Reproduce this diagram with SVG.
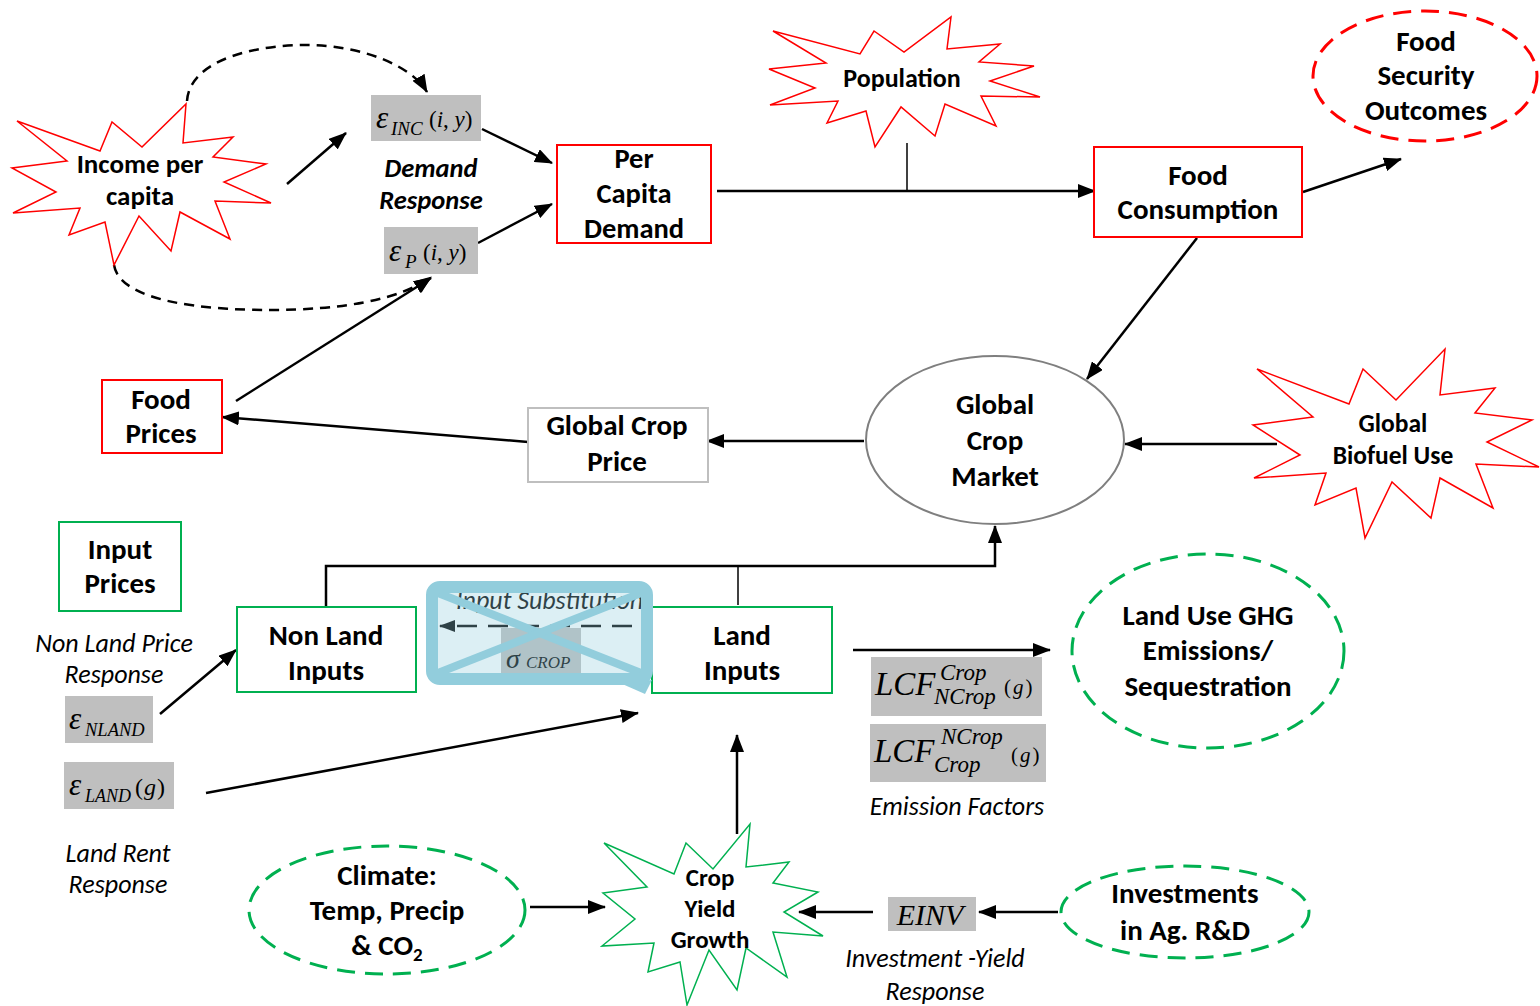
<svg xmlns="http://www.w3.org/2000/svg" width="1540" height="1006" viewBox="0 0 1540 1006">
  <style>
    .lbl { font-family: Carlito, "Open Sans", Lato, sans-serif; font-weight: bold; font-size: 29px; text-anchor: middle; fill: #000; }
    .cap { font-family: Carlito, "Open Sans", Lato, sans-serif; font-style: italic; font-size: 26px; text-anchor: middle; fill: #000; }
    .capb { font-family: Carlito, "Open Sans", Lato, sans-serif; font-style: italic; font-weight: bold; font-size: 26.5px; text-anchor: middle; fill: #000; }
    .math { font-family: "Liberation Serif", "Times New Roman", serif; font-style: italic; fill: #000; }
    .up { font-style: normal; }
    .redbox { fill: #fff; stroke: #ff0000; stroke-width: 2; }
    .greenbox { fill: #fff; stroke: #00b050; stroke-width: 2; }
    .graybox { fill: #fff; stroke: #bfbfbf; stroke-width: 2; }
    .param { fill: #bfbfbf; stroke: none; }
    .redstar { fill: #fff; stroke: #ff0000; stroke-width: 1.5; stroke-linejoin: miter; }
    .greenstar { fill: #fff; stroke: #00b050; stroke-width: 1.5; }
    .reddash { fill: #fff; stroke: #ff0000; stroke-width: 3; stroke-dasharray: 18 10; }
    .greendash { fill: #fff; stroke: #00b050; stroke-width: 3; stroke-dasharray: 18 10; }
    .conn { fill: none; stroke: #000; stroke-width: 2.5; }
    .thin { fill: none; stroke: #000; stroke-width: 1.5; }
    .dashed { fill: none; stroke: #000; stroke-width: 2.5; stroke-dasharray: 10 7; }
  </style>
  <defs>
    <marker id="arrow" markerUnits="userSpaceOnUse" markerWidth="18" markerHeight="14" refX="17" refY="7" orient="auto">
      <path d="M0,0 L18,7 L0,14 z" fill="#000"/>
    </marker>
    <marker id="arrowSm" markerUnits="userSpaceOnUse" markerWidth="16" markerHeight="12" refX="15" refY="6" orient="auto">
      <path d="M0,0 L16,6 L0,12 z" fill="#000"/>
    </marker>
    <clipPath id="subClip">
      <rect x="438" y="593" width="203" height="80"/>
    </clipPath>
  </defs>

  <!-- connectors -->
  <g id="connectors">
    <path class="dashed" d="M187,101 C190,58 260,45 305,45 C362,45 412,66 427,92" marker-end="url(#arrow)"/>
    <path class="dashed" d="M114,265 C120,302 205,310 270,310 C340,310 400,300 431,277" marker-end="url(#arrow)"/>
    <line class="conn" x1="287" y1="184" x2="346" y2="133" marker-end="url(#arrow)"/>
    <line class="conn" x1="482" y1="129" x2="552" y2="163" marker-end="url(#arrow)"/>
    <line class="conn" x1="478" y1="243" x2="552" y2="204" marker-end="url(#arrow)"/>
    <line class="conn" x1="236" y1="401" x2="431" y2="278" marker-end="url(#arrow)"/>
    <line class="conn" x1="717" y1="191" x2="1095" y2="191" marker-end="url(#arrow)"/>
    <line class="thin" x1="907" y1="143" x2="907" y2="191"/>
    <line class="conn" x1="1303" y1="192" x2="1401" y2="159" marker-end="url(#arrow)"/>
    <line class="conn" x1="1197" y1="238" x2="1087" y2="379" marker-end="url(#arrow)"/>
    <line class="conn" x1="1277" y1="444" x2="1125" y2="444" marker-end="url(#arrow)"/>
    <line class="conn" x1="864" y1="441" x2="707" y2="441" marker-end="url(#arrow)"/>
    <line class="conn" x1="528" y1="442" x2="222" y2="417" marker-end="url(#arrow)"/>
    <line class="conn" x1="160" y1="714" x2="236" y2="650" marker-end="url(#arrow)"/>
    <path class="conn" d="M326,607 L326,566 L995,566 L995,526" marker-end="url(#arrow)"/>
    <line class="thin" x1="738" y1="566" x2="738" y2="605"/>
    <line class="conn" x1="206" y1="793" x2="638" y2="713" marker-end="url(#arrow)"/>
    <line class="conn" x1="853" y1="650" x2="1050" y2="650" marker-end="url(#arrow)"/>
    <line class="conn" x1="737" y1="834" x2="737" y2="735" marker-end="url(#arrow)"/>
    <line class="conn" x1="530" y1="907" x2="605" y2="907" marker-end="url(#arrow)"/>
    <line class="conn" x1="873" y1="912" x2="799" y2="912" marker-end="url(#arrow)"/>
    <line class="conn" x1="1058" y1="912" x2="979" y2="912" marker-end="url(#arrow)"/>
  </g>

  <!-- demand side -->
  <g id="income">
    <polygon class="redstar" points="186,104 183,143 233,137 213,157 266,164 224,182 271,203 215,201 230,239 180,212 171,251 139,216 114,265 105,222 69,235 80,208 13,213 56,192 12,168 67,161 17,121 100,151 112,122 142,147"/>
    <text class="lbl" style="font-size:27px" x="140" y="173">Income per</text>
    <text class="lbl" style="font-size:27px" x="140" y="205">capita</text>
  </g>

  <g id="eps-inc">
    <rect class="param" x="371" y="95" width="110" height="46"/>
    <text class="math" x="376" y="128" font-size="31">ε</text>
    <text class="math" x="391" y="135" font-size="19">INC</text>
    <text class="math" x="429" y="127" font-size="23"><tspan class="up">(</tspan>i<tspan class="up">, </tspan>y<tspan class="up">)</tspan></text>
  </g>

  <g id="demand-response">
    <text class="capb" x="431" y="177">Demand</text>
    <text class="capb" x="431" y="209">Response</text>
  </g>

  <g id="eps-p">
    <rect class="param" x="384" y="227" width="94" height="47"/>
    <text class="math" x="389" y="261" font-size="31">ε</text>
    <text class="math" x="405" y="268" font-size="19">P</text>
    <text class="math" x="423" y="260" font-size="23"><tspan class="up">(</tspan>i<tspan class="up">, </tspan>y<tspan class="up">)</tspan></text>
  </g>

  <g id="per-capita-demand">
    <rect class="redbox" x="557" y="145" width="154" height="98"/>
    <text class="lbl" style="font-size:28.5px" x="634" y="168">Per</text>
    <text class="lbl" style="font-size:28.5px" x="634" y="203">Capita</text>
    <text class="lbl" style="font-size:28.5px" x="634" y="238">Demand</text>
  </g>

  <g id="population">
    <polygon class="redstar" points="773,31 860,54 874,31 904,52 951,17 947,49 1000,44 979,62 1034,66 990,81 1040,97 981,96 996,126 945,104 935,136 901,107 875,147 866,111 827,123 838,101 770,105 815,88 769,69 826,63"/>
    <text class="lbl" style="font-size:26px" x="902" y="87">Population</text>
  </g>

  <g id="food-consumption">
    <rect class="redbox" x="1094" y="147" width="208" height="90"/>
    <text class="lbl" x="1198" y="185">Food</text>
    <text class="lbl" x="1198" y="219">Consumption</text>
  </g>

  <g id="food-security">
    <ellipse class="reddash" cx="1425" cy="76" rx="112" ry="65"/>
    <text class="lbl" x="1426" y="51">Food</text>
    <text class="lbl" x="1426" y="85">Security</text>
    <text class="lbl" x="1426" y="120">Outcomes</text>
  </g>

  <!-- market -->
  <g id="global-crop-market">
    <ellipse cx="995" cy="440" rx="129" ry="84" fill="#fff" stroke="#7f7f7f" stroke-width="2"/>
    <text class="lbl" x="995" y="414">Global</text>
    <text class="lbl" x="995" y="450">Crop</text>
    <text class="lbl" x="995" y="486">Market</text>
  </g>

  <g id="biofuel">
    <polygon class="redstar" points="1257,369 1349,404 1363,369 1396,400 1445,349 1440,395 1495,388 1475,413 1532,420 1487,442 1539,467 1476,464 1493,508 1440,478 1431,518 1392,482 1365,538 1356,488 1315,505 1326,473 1254,478 1300,455 1253,425 1313,417"/>
    <text class="lbl" style="font-size:25.5px" x="1393" y="432">Global</text>
    <text class="lbl" style="font-size:25.5px" x="1393" y="464">Biofuel Use</text>
  </g>

  <g id="global-crop-price">
    <rect class="graybox" x="528" y="408" width="180" height="74"/>
    <text class="lbl" x="617" y="435">Global Crop</text>
    <text class="lbl" x="617" y="471">Price</text>
  </g>

  <g id="food-prices">
    <rect class="redbox" x="102" y="380" width="120" height="73"/>
    <text class="lbl" x="161" y="409">Food</text>
    <text class="lbl" x="161" y="443">Prices</text>
  </g>

  <!-- supply side -->
  <g id="input-prices">
    <rect class="greenbox" x="59" y="522" width="122" height="89"/>
    <text class="lbl" x="120" y="559">Input</text>
    <text class="lbl" x="120" y="593">Prices</text>
  </g>

  <g id="non-land-response">
    <text class="cap" x="114" y="652">Non Land Price</text>
    <text class="cap" x="114" y="683">Response</text>
  </g>

  <g id="eps-nland">
    <rect class="param" x="65" y="696" width="88" height="47"/>
    <text class="math" x="69" y="729" font-size="31">ε</text>
    <text class="math" x="85" y="736" font-size="18.5">NLAND</text>
  </g>

  <g id="eps-land">
    <rect class="param" x="64" y="762" width="110" height="47"/>
    <text class="math" x="69" y="795" font-size="31">ε</text>
    <text class="math" x="85" y="802" font-size="18">LAND</text>
    <text class="math" x="135" y="795" font-size="24" letter-spacing="1"><tspan class="up">(</tspan>g<tspan class="up">)</tspan></text>
  </g>

  <g id="land-rent-response">
    <text class="cap" x="118" y="862">Land Rent</text>
    <text class="cap" x="118" y="893">Response</text>
  </g>

  <g id="non-land-inputs">
    <rect class="greenbox" x="237" y="607" width="179" height="85"/>
    <text class="lbl" x="326" y="645">Non Land</text>
    <text class="lbl" x="326" y="680">Inputs</text>
  </g>

  <g id="land-inputs">
    <rect class="greenbox" x="652" y="607" width="180" height="86"/>
    <text class="lbl" x="742" y="645">Land</text>
    <text class="lbl" x="742" y="680">Inputs</text>
  </g>

  <!-- struck-out input substitution note -->
  <g id="input-substitution">
    <rect x="438" y="593" width="203" height="80" fill="#fff"/>
    <g clip-path="url(#subClip)">
      <text class="cap" style="text-anchor:start" x="456" y="609">Input Substitution</text>
      <line x1="632" y1="626" x2="440" y2="626" stroke="#000" stroke-width="2.5" stroke-dasharray="20 11" marker-end="url(#arrowSm)"/>
      <rect class="param" x="501" y="628" width="80" height="50"/>
      <text class="math" x="506" y="668" font-size="28">σ</text>
      <text class="math" x="526" y="668" font-size="17">CROP</text>
    </g>
    <rect x="438" y="593" width="203" height="80" fill="#92cddc" fill-opacity="0.32"/>
    <line x1="438" y1="593" x2="641" y2="673" stroke="#92cddc" stroke-width="8"/>
    <line x1="438" y1="673" x2="641" y2="593" stroke="#92cddc" stroke-width="8"/>
    <polygon points="620,683 645,694 652,680" fill="#92cddc"/>
    <rect x="432" y="587" width="215" height="92" rx="8" fill="none" stroke="#92cddc" stroke-width="12"/>
  </g>

  <g id="lcf-crop-ncrop">
    <rect class="param" x="871" y="657" width="171" height="59"/>
    <text class="math" x="875" y="695" font-size="33">LCF</text>
    <text class="math" x="940" y="680" font-size="23">Crop</text>
    <text class="math" x="934" y="704" font-size="23">NCrop</text>
    <text class="math" x="1004" y="694" font-size="21" letter-spacing="2"><tspan class="up">(</tspan>g<tspan class="up">)</tspan></text>
  </g>

  <g id="lcf-ncrop-crop">
    <rect class="param" x="870" y="724" width="176" height="58"/>
    <text class="math" x="874" y="762" font-size="33">LCF</text>
    <text class="math" x="941" y="744" font-size="23">NCrop</text>
    <text class="math" x="934" y="772" font-size="23">Crop</text>
    <text class="math" x="1011" y="762" font-size="21" letter-spacing="2"><tspan class="up">(</tspan>g<tspan class="up">)</tspan></text>
  </g>

  <g id="emission-factors">
    <text class="cap" x="957" y="815">Emission Factors</text>
  </g>

  <g id="ghg">
    <ellipse class="greendash" cx="1208" cy="651" rx="136" ry="97"/>
    <text class="lbl" x="1208" y="625">Land Use GHG</text>
    <text class="lbl" x="1208" y="660">Emissions/</text>
    <text class="lbl" x="1208" y="696">Sequestration</text>
  </g>

  <g id="climate">
    <ellipse class="greendash" cx="387" cy="910" rx="138" ry="64"/>
    <text class="lbl" x="387" y="885">Climate:</text>
    <text class="lbl" x="387" y="920">Temp, Precip</text>
    <text class="lbl" x="387" y="955">&amp; CO<tspan style="font-size:19px" dy="6">2</tspan></text>
  </g>

  <g id="crop-yield-growth">
    <polygon class="greenstar" points="604,843 674,874 686,843 713,869 750,824 746,867 789,862 773,883 818,892 784,912 823,936 773,932 787,977 746,948 737,990 709,950 687,1005 680,962 648,972 654,943 602,946 635,919 603,893 647,887"/>
    <text class="lbl" style="font-size:25px" x="710" y="886">Crop</text>
    <text class="lbl" style="font-size:25px" x="710" y="917">Yield</text>
    <text class="lbl" style="font-size:25px" x="710" y="948">Growth</text>
  </g>

  <g id="einv">
    <rect class="param" x="888" y="897" width="88" height="34"/>
    <text class="math" x="930" y="925" font-size="30" text-anchor="middle">EINV</text>
  </g>

  <g id="investment-yield-response">
    <text class="cap" x="935" y="967">Investment -Yield</text>
    <text class="cap" x="935" y="1000">Response</text>
  </g>

  <g id="investments">
    <ellipse class="greendash" cx="1185" cy="912" rx="124" ry="46"/>
    <text class="lbl" x="1185" y="903">Investments</text>
    <text class="lbl" x="1185" y="940">in Ag. R&amp;D</text>
  </g>
</svg>
